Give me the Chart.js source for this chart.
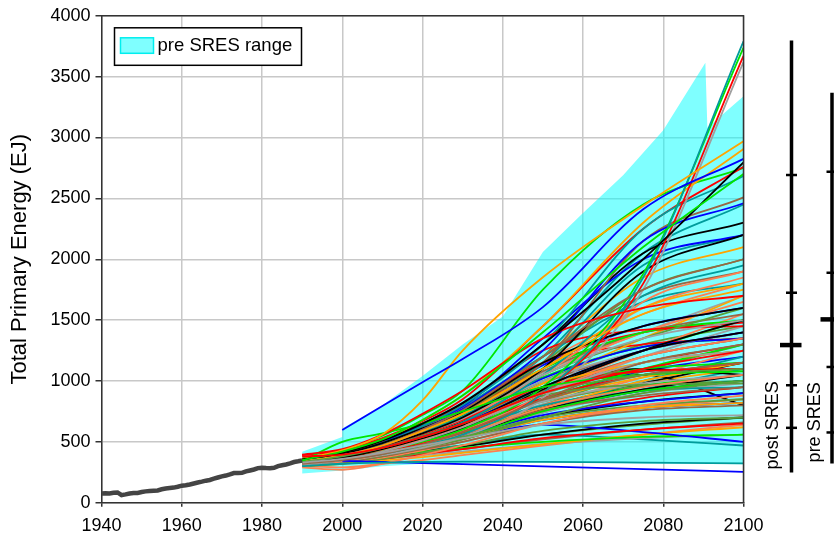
<!DOCTYPE html>
<html>
<head>
<meta charset="utf-8">
<script src="https://cdn.jsdelivr.net/npm/chart.js@4.4.1/dist/chart.umd.min.js"></script>
<style>
  html, body { margin: 0; padding: 0; background: #ffffff; }
  canvas { display: block; }
</style>
</head>
<body>
<canvas id="energyChart" width="834" height="536"></canvas>
<script>
const FONT = '"Liberation Sans", Arial, Helvetica, sans-serif';

// Axis ticks
const xTickValues = [1940, 1960, 1980, 2000, 2020, 2040, 2060, 2080, 2100];
const yTickValues = [0, 500, 1000, 1500, 2000, 2500, 3000, 3500, 4000];

// Historical primary energy use (EJ)
const historyYears = [1940, 1941, 1942, 1943, 1944, 1945, 1946, 1947, 1948, 1949,
  1950, 1951, 1952, 1953, 1954, 1955, 1956, 1957, 1958, 1959,
  1960, 1961, 1962, 1963, 1964, 1965, 1966, 1967, 1968, 1969,
  1970, 1971, 1972, 1973, 1974, 1975, 1976, 1977, 1978, 1979,
  1980, 1981, 1982, 1983, 1984, 1985, 1986, 1987, 1988, 1989, 1990];
const historyValues = [75, 78, 76, 82, 84, 62, 68, 76, 80, 80,
  88, 93, 96, 99, 101, 110, 116, 120, 124, 131,
  140, 143, 150, 158, 166, 173, 181, 187, 197, 207,
  216, 223, 233, 244, 243, 245, 257, 265, 273, 284,
  288, 285, 284, 287, 300, 308, 314, 323, 334, 340, 347];

// Pre-SRES scenario range (envelope)
const bandYears = [1990, 2000, 2000, 2010, 2020, 2030, 2040, 2050, 2060, 2070, 2080, 2090.5, 2091, 2100];
const bandUpper = [418, 540, 610, 800, 1040, 1300, 1530, 2060, 2380, 2690, 3060, 3615, 3080, 3340];
const bandLower = [240, 265, 265, 300, 320, 325, 328, 330, 328, 325, 322, 320, 320, 315];

// Post-SRES scenarios, values at these years (EJ)
const scenarioYears = [1990, 2000, 2010, 2020, 2030, 2050, 2075, 2100];
const scenarioValues = [
  [380, 395, 450, 540, 650, 900, 1100, 1250],
  [null, 598, 794, 990, 1180, 1607, 2410, 2825],
  [350, 420, 520, 680, 880, 1400, 2100, 2700],
  [355, 410, 510, 650, 820, 1300, 2000, 2795],
  [360, 430, 560, 840, 1250, 1852, 2440, 2970],
  [330, 360, 410, 470, 530, 640, 700, 720],
  [300, 320, 330, 335, 338, 336, 330, 323],
  [290, 270, 320, 390, 470, 650, 800, 880],
  [320, 350, 400, 480, 580, 850, 1150, 1300],
  [335, 380, 450, 540, 650, 900, 1050, 1100],

  [395, 440, 560, 730, 920, 1350, 1600, 1700],
  [null, 344, 335, 326, 317, 299, 276, 254],
  [340, 500, 570, 650, 750, 950, 1050, 1080],
  [330, 370, 440, 530, 640, 950, 1250, 1400],
  [340, 390, 470, 590, 730, 1100, 1550, 1750],
  [310, 350, 420, 510, 620, 900, 1150, 1250],
  [310, 350, 400, 470, 560, 900, 1850, 3790],
  [300, 340, 400, 470, 560, 780, 950, 1050],
  [330, 380, 470, 600, 760, 1200, 1750, 2000],
  [320, 360, 410, 470, 540, 700, 800, 850],

  [325, 365, 415, 485, 580, 900, 1800, 3670],
  [340, 390, 470, 600, 770, 1250, 2150, 2460],
  [330, 370, 420, 500, 600, 950, 1880, 3738],
  [350, 400, 490, 610, 750, 1150, 1450, 1600],
  [355, 415, 510, 680, 880, 1450, 2300, 2906],
  [300, 340, 390, 450, 540, 860, 1750, 3620],
  [340, 400, 490, 630, 800, 1300, 2250, 2684],
  [320, 360, 430, 520, 630, 900, 1200, 1350],
  [340, 390, 470, 590, 740, 1150, 2150, 2508],
  [310, 340, 390, 450, 520, 700, 900, 1000],

  [390, 430, 530, 670, 850, 1450, 2250, 2760],
  [330, 380, 450, 540, 650, 950, 1250, 1400],
  [360, 430, 550, 720, 920, 1750, 2450, 2750],
  [345, 390, 470, 570, 700, 1100, 1900, 2200],
  [330, 370, 440, 530, 640, 950, 1150, 1250],
  [340, 390, 470, 570, 690, 1050, 1350, 1500],
  [320, 360, 440, 540, 660, 1050, 1700, 1950],
  [310, 350, 410, 490, 590, 900, 1650, 1900],
  [300, 330, 380, 440, 500, 650, 760, 800],
  [325, 370, 450, 550, 650, 880, 970, 980],

  [335, 380, 460, 560, 680, 950, 1080, 1100],
  [350, 410, 500, 630, 790, 1350, 2000, 2200],
  [300, 330, 380, 450, 530, 750, 920, 1000],
  [320, 360, 430, 510, 610, 930, 1250, 1500],
  [345, 400, 490, 600, 730, 1100, 1600, 1800],
  [330, 370, 440, 520, 610, 830, 980, 1050],
  [340, 390, 470, 580, 710, 1150, 1950, 2200],
  [330, 380, 460, 560, 680, 1050, 1600, 1850],
  [310, 350, 410, 480, 560, 760, 880, 950],
  [340, 390, 470, 570, 690, 1050, 1350, 1600],

  [360, 420, 520, 650, 800, 1250, 1420, 1450],
  [310, 350, 410, 480, 550, 720, 830, 900],
  [340, 390, 480, 590, 720, 1100, 1400, 1500],
  [300, 340, 400, 470, 550, 760, 930, 1050],
  [320, 350, 400, 460, 530, 680, 780, 820],
  [350, 400, 480, 580, 700, 1000, 1250, 1400],
  [330, 370, 430, 510, 600, 800, 920, 950],
  [340, 390, 470, 570, 690, 1050, 1400, 1650],
  [320, 360, 430, 510, 600, 840, 1050, 1150],
  [350, 410, 500, 620, 750, 1150, 1750, 2000],

  [330, 370, 440, 520, 610, 860, 1050, 1150],
  [340, 390, 470, 570, 680, 1020, 1280, 1350],
  [320, 360, 430, 510, 600, 850, 1100, 1300],
  [360, 420, 520, 650, 810, 1300, 2050, 2300],
  [310, 345, 400, 470, 550, 770, 1000, 1150],
  [320, 360, 430, 510, 600, 880, 1200, 1450],
  [350, 410, 510, 640, 790, 1200, 1650, 1800],
  [300, 330, 370, 430, 500, 650, 780, 850],
  [345, 400, 490, 600, 720, 1080, 1400, 1550],
  [330, 370, 440, 520, 620, 900, 1150, 1250],

  [340, 390, 470, 580, 710, 1150, 1400, 1480],
  [320, 360, 410, 480, 560, 760, 920, 1000],
  [350, 400, 480, 580, 680, 950, 1100, 1150],
  [310, 345, 395, 460, 530, 700, 830, 900],
  [340, 380, 450, 540, 650, 980, 1350, 1700],
  [300, 340, 390, 460, 540, 740, 900, 980],
  [320, 350, 400, 470, 550, 760, 1000, 1200],
  [350, 400, 490, 600, 730, 1150, 1550, 1800],
  [330, 370, 440, 530, 630, 920, 1200, 1350],
  [340, 380, 450, 530, 620, 830, 960, 1000],

  [320, 350, 390, 450, 520, 700, 860, 950],
  [345, 400, 490, 600, 730, 1130, 1450, 1600],
  [330, 370, 420, 490, 570, 780, 960, 1050],
  [340, 390, 470, 560, 660, 950, 1100, 1050],
  [355, 410, 510, 630, 780, 1200, 1850, 2100],
  [335, 375, 450, 540, 640, 920, 1200, 1350],
  [310, 340, 390, 460, 540, 740, 930, 1100],
  [325, 360, 410, 480, 560, 760, 920, 1000],
  [340, 380, 460, 550, 660, 980, 1250, 1400],
  [300, 320, 360, 410, 470, 590, 670, 700],

  [350, 410, 510, 640, 770, 1150, 1300, 1350],
  [330, 360, 410, 470, 530, 680, 780, 820],
  [345, 395, 480, 580, 700, 1030, 1280, 1350],
  [325, 360, 410, 480, 560, 780, 980, 1150],
  [335, 375, 440, 520, 600, 840, 1030, 1150],
  [345, 395, 480, 590, 710, 1070, 1400, 1700],
  [335, 380, 460, 550, 650, 920, 1080, 1100],
  [315, 350, 410, 480, 570, 800, 1030, 1250],
  [350, 405, 500, 620, 760, 1200, 1700, 1900],
  [320, 355, 420, 490, 570, 800, 1080, 1300],

  [340, 385, 460, 550, 650, 920, 1150, 1300],
  [325, 365, 430, 500, 590, 850, 1080, 1200],
  [335, 380, 450, 540, 640, 950, 1250, 1500],
  [345, 395, 460, 560, 670, 950, 1050, 800],
  [325, 360, 420, 490, 570, 780, 980, 1100],
  [330, 365, 430, 500, 580, 810, 1000, 1150],
  [345, 400, 490, 600, 740, 1200, 2050, 2450],
  [335, 375, 445, 530, 630, 920, 1250, 1550],
  [325, 360, 420, 490, 570, 780, 920, 1000],
  [345, 395, 480, 580, 690, 1000, 1300, 1450],

  [310, 330, 360, 400, 440, 530, 600, 650],
  [340, 380, 420, 470, 530, 640, 580, 500],
  [330, 360, 390, 420, 450, 500, 540, 560],
  [320, 350, 380, 420, 460, 560, 650, 700],
  [300, 320, 345, 375, 410, 480, 560, 620],
  [310, 335, 360, 390, 420, 480, 530, 560],
  [330, 360, 390, 430, 470, 560, 520, 470],
  [300, 290, 320, 350, 390, 470, 560, 640],
  [315, 340, 370, 400, 440, 520, 600, 660],
  [325, 355, 390, 430, 470, 560, 640, 700]
];

// 2100 distribution markers: min, 5th, 25th, median, 75th, 95th percentile, max
const postSresStats = [249, 615, 965, 1295, 1725, 2692, 3798];
const preSresStats = [323, 577, 1115, 1506, 1889, 2719, 3368];

const lineColors = ['#ff0000', '#0000ff', '#00e600', '#000000', '#ffa500',
                    '#a0a0a0', '#009c9c', '#ff7f50', '#996644', '#5a9e3a'];

function pairs(xs, ys) {
  return xs.map((x, i) => ({ x: x, y: ys[i] }));
}

const datasets = [];

scenarioValues.forEach((row, i) => {
  datasets.push({
    label: 'scenario ' + (i + 1),
    data: pairs(scenarioYears, row),
    borderColor: lineColors[i % lineColors.length],
    borderWidth: 1.8,
    pointRadius: 0,
    cubicInterpolationMode: 'monotone',
    fill: false,
    order: 1
  });
});

datasets.push({
  label: 'history',
  data: pairs(historyYears, historyValues),
  borderColor: '#444444',
  borderWidth: 4.5,
  pointRadius: 0,
  fill: false,
  order: 0
});

datasets.push({
  label: 'range low',
  data: pairs(bandYears, bandLower),
  borderColor: 'rgba(0,0,0,0)',
  borderWidth: 1,
  pointRadius: 0,
  fill: false,
  order: 10
});

datasets.push({
  label: 'pre SRES range',
  data: pairs(bandYears, bandUpper),
  borderColor: 'rgba(0,0,0,0)',
  borderWidth: 1,
  pointRadius: 0,
  backgroundColor: 'rgba(0,255,255,0.5)',
  fill: '-1',
  order: 9
});

// Frame, legend and the post/pre SRES range bars at the right
const decorations = {
  id: 'decorations',
  afterDatasetsDraw(chart) {
    const ctx = chart.ctx;
    const a = chart.chartArea;
    ctx.save();
    ctx.strokeStyle = '#333333';
    ctx.lineWidth = 1.5;
    ctx.beginPath();
    ctx.moveTo(a.left, a.top);
    ctx.lineTo(a.right, a.top);
    ctx.lineTo(a.right, a.bottom);
    ctx.stroke();

    // legend box
    const bx = a.left + 13, by = a.top + 12, bw = 187, bh = 37.5;
    ctx.fillStyle = '#ffffff';
    ctx.fillRect(bx, by, bw, bh);
    ctx.strokeStyle = '#000000';
    ctx.lineWidth = 1.5;
    ctx.strokeRect(bx, by, bw, bh);
    ctx.fillStyle = 'rgba(0,255,255,0.5)';
    ctx.fillRect(bx + 6, by + 10, 33, 15.5);
    ctx.strokeStyle = '#00eeee';
    ctx.lineWidth = 1.5;
    ctx.strokeRect(bx + 6, by + 10, 33, 15.5);
    ctx.fillStyle = '#000000';
    ctx.font = '18.5px ' + FONT;
    ctx.textAlign = 'left';
    ctx.textBaseline = 'middle';
    ctx.fillText('pre SRES range', bx + 43, by + 18.5);
    ctx.restore();
  },
  afterDraw(chart) {
    const ctx = chart.ctx;
    const a = chart.chartArea;
    const ys = chart.scales.y;

    function seg(x1, y1, x2, y2) {
      ctx.beginPath();
      ctx.moveTo(x1, y1);
      ctx.lineTo(x2, y2);
      ctx.stroke();
    }

    function drawRange(stats, cx, label, labelX, labelLift) {
      const px = stats.map(v => ys.getPixelForValue(v));
      ctx.strokeStyle = '#000000';
      ctx.lineCap = 'butt';
      ctx.lineWidth = 3.5;
      seg(cx, px[0], cx, px[6]);
      ctx.lineWidth = 2.5;
      [1, 2, 4, 5].forEach(k => seg(cx - 5.5, px[k], cx + 5.5, px[k]));
      ctx.lineWidth = 4.5;
      seg(cx - 11.5, px[3], cx + 10, px[3]);

      ctx.save();
      ctx.translate(labelX, px[0] - labelLift);
      ctx.rotate(-Math.PI / 2);
      ctx.fillStyle = '#000000';
      ctx.font = '18px ' + FONT;
      ctx.textAlign = 'left';
      ctx.textBaseline = 'middle';
      ctx.fillText(label, 0, 0);
      ctx.restore();
    }

    ctx.save();
    drawRange(postSresStats, a.right + 48, 'post SRES', a.right + 29.5, 3);
    drawRange(preSresStats, a.right + 88.5, 'pre SRES', a.right + 71.5, 1);
    ctx.restore();
  }
};

const tickFont = { family: FONT, size: 18 };

new Chart(document.getElementById('energyChart'), {
  type: 'line',
  data: { datasets: datasets },
  plugins: [decorations],
  options: {
    responsive: false,
    animation: false,
    devicePixelRatio: 1,
    layout: { padding: { left: 0, right: 90.5, top: 14.7, bottom: 0 } },
    plugins: {
      legend: { display: false },
      tooltip: { enabled: false },
      filler: { drawTime: 'beforeDatasetsDraw' }
    },
    elements: { line: { tension: 0 } },
    scales: {
      x: {
        type: 'linear',
        min: 1940,
        max: 2100,
        afterBuildTicks: s => { s.ticks = xTickValues.map(v => ({ value: v })); },
        afterFit: s => { s.height = 33.3; },
        grid: { color: '#c8c8c8', lineWidth: 1.5, tickLength: 4, tickColor: '#333333', tickWidth: 1.5 },
        border: { color: '#333333', width: 1.5 },
        ticks: { color: '#000000', font: tickFont, padding: 9, maxRotation: 0, autoSkip: false,
                 callback: v => String(v) }
      },
      y: {
        type: 'linear',
        min: 0,
        max: 4000,
        afterBuildTicks: s => { s.ticks = yTickValues.map(v => ({ value: v })); },
        afterFit: s => { s.width = 101.5; },
        grid: { color: '#c8c8c8', lineWidth: 1.5, tickLength: 6, tickColor: '#333333', tickWidth: 1.5 },
        border: { color: '#333333', width: 1.5 },
        ticks: { color: '#000000', font: tickFont, padding: 5, autoSkip: false,
                 callback: v => String(v) },
        title: {
          display: true,
          text: 'Total Primary Energy (EJ)',
          color: '#000000',
          font: { family: FONT, size: 22 },
          padding: { top: 7, bottom: 0 }
        }
      }
    }
  }
});
</script>
</body>
</html>
